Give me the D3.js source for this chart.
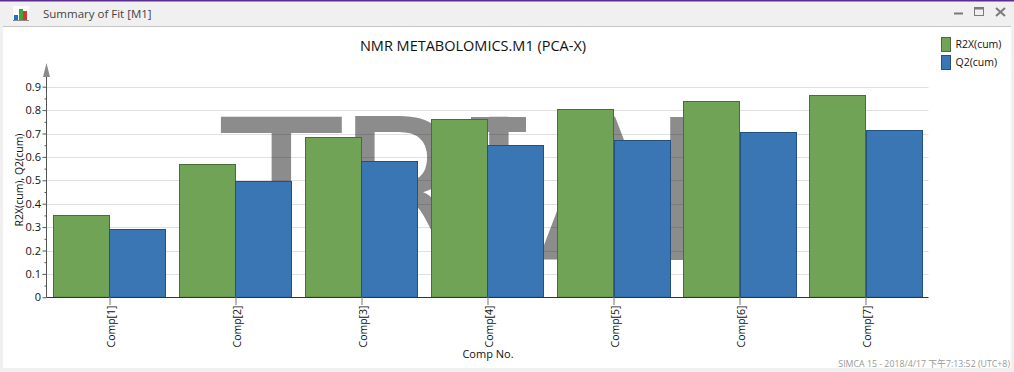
<!DOCTYPE html>
<html>
<head>
<meta charset="utf-8">
<style>
  html, body { margin: 0; padding: 0; background: #f0f0f0; overflow: hidden; }
  svg { display: block; font-family: "Open Sans", "Noto Sans", sans-serif; }
  text { fill: #111; }
</style>
<script src="https://cdn.jsdelivr.net/npm/d3@7"></script>
</head>
<body>
<div id="chart"></div>
<script>
// chart values
const comps = ["Comp[1]", "Comp[2]", "Comp[3]", "Comp[4]", "Comp[5]", "Comp[6]", "Comp[7]"];
const r2x = [0.35, 0.568, 0.684, 0.761, 0.803, 0.838, 0.864];
const q2 = [0.29, 0.496, 0.581, 0.65, 0.671, 0.706, 0.715];
const seriesNames = ["R2X(cum)", "Q2(cum)"];
const yTicks = [0, 0.1, 0.2, 0.3, 0.4, 0.5, 0.6, 0.7, 0.8, 0.9];
const yMinorTicks = [0.05, 0.15, 0.25, 0.35, 0.45, 0.55, 0.65, 0.75, 0.85];

const WIDTH = 1014;
const HEIGHT = 372;
const MARGIN = { left: 46.5, right: 928.5, top: 63, bottom: 297.3 };
const COLORS = ["#70a356", "#3a76b4"];
const STROKES = ["#4a6b3a", "#24507e"];
const WATERMARK = "#8c8c8c";

const svg = d3
  .select("#chart")
  .append("svg")
  .attr("width", WIDTH)
  .attr("height", HEIGHT);

// window frame
svg.append("rect").attr("x", 3).attr("y", 27).attr("width", 1008).attr("height", 341).attr("fill", "white");
svg.append("rect").attr("x", 0).attr("y", 0).attr("width", WIDTH).attr("height", 1.5).attr("fill", "#5b2d8e");
svg.append("rect").attr("x", 3).attr("y", 26).attr("width", 1008).attr("height", 1).attr("fill", "#c4c4c4");
svg.append("text").text("Summary of Fit [M1]")
  .attr("x", 43).attr("y", 18).attr("font-size", "11.5px").style("fill", "#444");

// title bar icon
const icon = svg.append("g");
icon.append("rect").attr("x", 13).attr("y", 6).attr("width", 16).attr("height", 14).attr("fill", "white");
icon.append("rect").attr("x", 14).attr("y", 15).attr("width", 4).attr("height", 5).attr("fill", "#1f6fd8");
icon.append("rect").attr("x", 19).attr("y", 9).attr("width", 4).attr("height", 11).attr("fill", "#3aa53a");
icon.append("rect").attr("x", 23).attr("y", 11).attr("width", 4).attr("height", 9).attr("fill", "#e23030");
icon.append("rect").attr("x", 13).attr("y", 20).attr("width", 16).attr("height", 1).attr("fill", "#888");

// window buttons
const buttons = svg.append("g").attr("stroke", "#7b7b7b").attr("fill", "none");
buttons.append("line").attr("x1", 954).attr("x2", 963).attr("y1", 13.5).attr("y2", 13.5).attr("stroke-width", 2);
buttons.append("rect").attr("x", 974.5).attr("y", 7.5).attr("width", 9).attr("height", 8);
buttons.append("line").attr("x1", 974).attr("x2", 984).attr("y1", 8.5).attr("y2", 8.5).attr("stroke-width", 2);
buttons.append("path").attr("d", "M996,8L1005,16M1005,8L996,16").attr("stroke-width", 2);

// scales
const x = d3
  .scaleBand()
  .domain(comps)
  .range([MARGIN.left, MARGIN.right])
  .paddingInner(0.1)
  .paddingOuter(0.05);
const xSub = d3.scaleBand().domain(seriesNames).range([0, x.bandwidth()]);
const y = d3.scaleLinear().domain([0, 0.9]).range([MARGIN.bottom, 86.7]);

// TRIAL watermark sits behind everything
// the original font has a serif I, so those serifs are added as bars
const mark = svg.append("g");
mark.append("text").text("TRIAL")
  .attr("x", "221.5 336 470 537 651")
  .attr("y", 260)
  .attr("font-family", "DejaVu Sans")
  .attr("font-size", "196px")
  .style("fill", WATERMARK);
mark.append("rect").attr("x", 471).attr("y", 117).attr("width", 55).attr("height", 15).attr("fill", WATERMARK);
mark.append("rect").attr("x", 471).attr("y", 245).attr("width", 55).attr("height", 15).attr("fill", WATERMARK);

// gridlines
svg.append("g")
  .selectAll("line")
  .data(yTicks.slice(1))
  .join("line")
  .attr("x1", MARGIN.left)
  .attr("x2", MARGIN.right)
  .attr("y1", (d) => Math.round(y(d)) + 0.5)
  .attr("y2", (d) => Math.round(y(d)) + 0.5)
  .attr("stroke", "black")
  .attr("stroke-opacity", 0.12);

// bars
[r2x, q2].forEach((values, s) => {
  svg.append("g")
    .selectAll("rect")
    .data(values)
    .join("rect")
    .attr("x", (_, i) => Math.round(x(comps[i]) + xSub(seriesNames[s])) + 0.5)
    .attr("y", (d) => Math.round(y(d)) + 0.5)
    .attr("width", Math.round(xSub.bandwidth()) - 1)
    .attr("height", (d) => MARGIN.bottom - Math.round(y(d)) - 0.5)
    .attr("fill", COLORS[s])
    .attr("stroke", STROKES[s])
    .attr("stroke-width", 1);
});

// y axis
const yAxis = svg.append("g")
  .attr("transform", `translate(${MARGIN.left},0)`)
  .call(d3.axisLeft(y).tickValues(yTicks).tickSize(4).tickFormat(d3.format("~g")));
yAxis.select(".domain").attr("d", `M0,${MARGIN.bottom}V72`).attr("stroke", "#555");
yAxis.selectAll(".tick line").attr("stroke", "#555");
yAxis.selectAll(".tick text").attr("font-size", "11px").attr("font-family", "Open Sans").attr("dx", "1.5").style("fill", "#111");

const yMinor = svg.append("g")
  .attr("transform", `translate(${MARGIN.left},0)`)
  .call(d3.axisLeft(y).tickValues(yMinorTicks).tickSize(2).tickFormat(""));
yMinor.select(".domain").remove();
yMinor.selectAll(".tick line").attr("stroke", "#555");

// axis arrow
svg.append("path")
  .attr("d", d3.line()([[43, 77], [46.5, 63], [50, 77]]) + "Z")
  .attr("fill", "#8a8a8a");

// x axis
const xAxis = svg.append("g")
  .attr("transform", `translate(0,${Math.round(MARGIN.bottom)})`)
  .call(d3.axisBottom(d3.scalePoint().domain(comps).range([
    x(comps[0]) + x.bandwidth() / 2,
    x(comps[6]) + x.bandwidth() / 2,
  ])).tickSize(8));
xAxis.select(".domain").attr("d", `M${MARGIN.left},0.5H${MARGIN.right}`).attr("stroke", "#333");
xAxis.selectAll(".tick line").attr("stroke", "#777");
xAxis.selectAll(".tick text")
  .attr("font-size", "10.5px")
  .attr("font-family", "Open Sans")
  .attr("transform", "rotate(-90)")
  .attr("text-anchor", "end")
  .attr("x", -8.5)
  .attr("y", 1)
  .attr("dy", "0.35em")
  .style("fill", "#111");

// titles
svg.append("text").text("NMR METABOLOMICS.M1 (PCA-X)")
  .attr("x", 473).attr("y", 51).attr("text-anchor", "middle").attr("font-size", "14.5px");
svg.append("text").text("Comp No.")
  .attr("x", 488).attr("y", 358).attr("text-anchor", "middle").attr("font-size", "11px");
svg.append("text").text("R2X(cum), Q2(cum)")
  .attr("transform", "translate(23,180) rotate(-90)").attr("text-anchor", "middle").attr("font-size", "10.5px");
svg.append("text").text("SIMCA 15 - 2018/4/17 下午7:13:52 (UTC+8)")
  .attr("x", 1010).attr("y", 367).attr("text-anchor", "end").attr("font-size", "8.8px")
  .attr("font-family", "Open Sans, Noto Sans CJK TC").style("fill", "#999");

// legend
const legend = svg.append("g")
  .selectAll("g")
  .data(seriesNames)
  .join("g")
  .attr("transform", (_, i) => `translate(941.5,${37.5 + i * 18})`);
legend.append("rect")
  .attr("width", 9)
  .attr("height", 14)
  .attr("fill", (_, i) => COLORS[i])
  .attr("stroke", (_, i) => STROKES[i]);
legend.append("text").text((d) => d)
  .attr("x", 14).attr("y", 10).attr("font-size", "10.5px");
</script>
</body>
</html>
